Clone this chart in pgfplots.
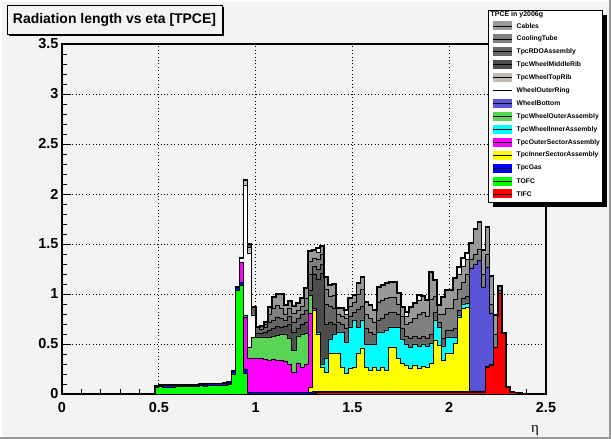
\documentclass[border=0pt]{standalone}
\usepackage{pgfplots}
\usepackage{pgfplotstable}
\pgfplotsset{compat=1.18}
\usepackage{fontspec}
\setmainfont{Liberation Sans}
\newfontfamily\greekfont{Liberation Serif}
\definecolor{bg}{RGB}{243,243,243}
\definecolor{cCables}{RGB}{153,153,153}
\definecolor{cCool}{RGB}{127,127,127}
\definecolor{cRDO}{RGB}{102,102,102}
\definecolor{cMid}{RGB}{76,76,76}
\definecolor{cTop}{RGB}{194,188,178}
\definecolor{cBot}{RGB}{89,84,216}
\definecolor{cWOut}{RGB}{89,212,84}
\definecolor{cWIn}{RGB}{0,255,255}
\definecolor{cOut}{RGB}{255,0,255}
\definecolor{cIn}{RGB}{255,255,0}
\definecolor{cGas}{RGB}{0,0,255}
\definecolor{cTOFC}{RGB}{0,255,0}
\definecolor{cTIFC}{RGB}{255,0,0}

\pgfplotstableread{
x y
0.4583 0
0.4792 0.08
0.5 0.09
0.7083 0.105
0.7292 0.10
0.75 0.105
0.8333 0.11
0.8542 0.12
0.875 0.23
0.8958 1.07
0.9167 1.36
0.9375 2.14
0.9583 1.50
0.9792 0.87
1.0 0.67
1.0208 0.68
1.0417 0.72
1.0625 0.87
1.0833 0.97
1.1042 1.00
1.125 1.00
1.1458 0.89
1.1667 0.93
1.1875 0.88
1.2083 0.91
1.2292 0.96
1.25 1.06
1.2708 1.43
1.2917 1.44
1.3125 1.46
1.3333 1.48
1.3542 1.17
1.375 1.09
1.3958 1.10
1.4167 0.86
1.4375 0.86
1.4583 0.84
1.4792 0.96
1.5 0.99
1.5208 1.11
1.5417 1.17
1.5625 0.92
1.5833 0.89
1.6042 0.84
1.625 1.07
1.6458 1.09
1.6667 1.11
1.6875 1.12
1.7083 1.12
1.7292 1.01
1.75 0.87
1.7708 0.82
1.7917 0.87
1.8125 0.91
1.8333 0.99
1.8542 0.98
1.875 0.94
1.8958 1.22
1.9167 1.14
1.9375 0.89
1.9583 0.97
1.9792 1.04
2.0 1.04
2.0208 1.16
2.0417 1.27
2.0625 1.36
2.0833 1.41
2.1042 1.51
2.125 1.65
2.1458 1.72
2.1667 1.44
2.1875 1.67
2.2083 1.18
2.2292 0.79
2.25 1.08
2.2708 0.61
2.2917 0.07
2.3125 0.02
2.3333 0.015
2.3542 0.01
2.375 0
}\tabTot

\begin{document}
\begin{tikzpicture}
\useasboundingbox (0bp,0bp) rectangle (611bp,439bp);
\fill[bg] (0bp,0bp) rectangle (611bp,439bp);
\fill[white] (0bp,437bp) rectangle (611bp,439bp);
\fill[white] (0bp,0bp) rectangle (2bp,439bp);
\fill[black!40] (0bp,0bp) rectangle (611bp,2bp);
\fill[black!40] (609bp,0bp) rectangle (611bp,439bp);

\begin{axis}[
  at={(62bp,45bp)}, anchor=south west, scale only axis,
  width=484bp, height=350bp,
  xmin=0, xmax=2.5, ymin=0, ymax=3.5,
  xtick={0,0.5,1,1.5,2,2.5}, ytick={0,0.5,1,1.5,2,2.5,3,3.5},
  minor tick num=4,
  tick pos=left, tick align=inside,
  major tick length=9bp, minor tick length=4.5bp,
  every tick/.style={black, line width=0.8bp},
  grid=major,
  grid style={black, line width=0.8bp, dash pattern=on 0.8bp off 2.6bp},
  axis line style={line width=1.1bp},
  tick label style={font=\fontsize{14.5}{14.5}\selectfont\bfseries},
  /pgf/number format/assume math mode=true,
  xticklabel style={yshift=-5bp},
  axis background/.style={fill=bg},
  const plot mark left,
  every axis plot/.append style={draw=black, line width=0.85bp},
]
% total (white where it exceeds the stack)
\addplot[fill=white, line width=1.8bp] table {\tabTot} \closedcycle;
% Cables
\addplot[fill=cCables] table {
x y
0.9167 1.36
0.9375 2.14
0.9583 1.50
0.9792 0.87
1.0 0.67
1.0208 0.68
1.0417 0.72
1.0625 0.87
1.0833 0.97
1.1042 1.00
1.1458 0.89
1.1667 0.93
1.1875 0.88
1.2083 0.91
1.2292 0.96
1.25 1.06
1.2708 1.43
1.2917 1.44
1.3125 1.42
1.3333 1.48
1.3542 1.17
1.375 1.09
1.3958 1.10
1.4167 0.86
1.4583 0.80
1.4792 0.96
1.5 0.99
1.5208 1.11
1.5417 1.17
1.5625 0.92
1.5833 0.89
1.6042 0.84
1.625 1.07
1.6458 1.09
1.6667 1.11
1.6875 1.12
1.7292 1.01
1.75 0.87
1.7708 0.78
1.7917 0.87
1.8125 0.91
1.8333 0.94
1.8542 0.98
1.875 0.94
1.8958 1.22
1.9167 1.14
1.9375 0.89
1.9583 0.97
1.9792 1.04
2.0208 1.16
2.0417 1.20
2.0625 1.28
2.0833 1.35
2.1042 1.51
2.125 1.65
2.1458 1.72
2.1667 1.44
2.1875 1.67
2.2083 1.18
2.2292 0.79
2.25 1.08
2.2708 0.61
2.2917 0.07
2.3125 0.02
2.3333 0.015
2.3542 0.01
2.375 0
} \closedcycle;
% CoolingTube
\addplot[fill=cCool] table {
x y
0.9792 0.87
1.0 0.67
1.0208 0.68
1.0417 0.70
1.0625 0.80
1.0833 0.86
1.1042 0.89
1.125 0.86
1.1458 0.80
1.1667 0.86
1.1875 0.81
1.2083 0.84
1.2292 0.88
1.25 0.96
1.2708 1.33
1.2917 1.36
1.3125 1.35
1.3333 1.40
1.3542 1.05
1.375 0.98
1.3958 0.99
1.4167 0.80
1.4375 0.78
1.4583 0.76
1.4792 0.88
1.5 0.92
1.5208 1.00
1.5417 1.05
1.5625 0.80
1.5833 0.76
1.6042 0.72
1.625 0.92
1.6458 0.94
1.6667 0.96
1.6875 0.97
1.7292 0.90
1.75 0.78
1.7708 0.70
1.7917 0.72
1.8125 0.76
1.8333 0.80
1.8542 0.82
1.875 0.78
1.8958 0.95
1.9167 0.98
1.9375 0.80
1.9792 0.86
2.0208 0.95
2.0417 1.05
2.0625 1.12
2.0833 1.20
2.1042 1.35
2.125 1.40
2.1458 1.45
2.1667 1.20
2.1875 1.40
2.2083 0.90
2.2292 0.60
2.25 1.04
2.2708 0
} \closedcycle;
% TpcRDOAssembly
\addplot[fill=cRDO] table {
x y
0.9792 0.87
1.0 0.67
1.0208 0.65
1.0417 0.67
1.0625 0.72
1.0833 0.74
1.1042 0.77
1.125 0.76
1.1458 0.74
1.1667 0.78
1.1875 0.72
1.2083 0.76
1.2292 0.80
1.25 0.84
1.2708 1.20
1.2917 1.28
1.3125 1.25
1.3333 1.30
1.3542 0.90
1.375 0.88
1.3958 0.86
1.4167 0.72
1.4375 0.70
1.4583 0.66
1.4792 0.78
1.5 0.82
1.5208 0.85
1.5417 0.88
1.5625 0.66
1.5833 0.62
1.6042 0.60
1.625 0.74
1.6458 0.76
1.6667 0.80
1.6875 0.82
1.7292 0.80
1.75 0.66
1.7708 0.58
1.7917 0.56
1.8125 0.58
1.8333 0.56
1.8542 0.58
1.875 0.56
1.8958 0.60
1.9167 0.82
1.9375 0.72
1.9583 0.56
1.9792 0.64
2.0208 0.66
2.0417 0.84
2.0625 0.96
2.0833 0.98
2.1042 0
} \closedcycle;
% TpcWheelMiddleRib
\addplot[fill=cMid] table {
x y
0.9583 1.50
0.9792 0.79
1.0 0.61
1.0417 0.62
1.0625 0.64
1.0833 0.66
1.1042 0.68
1.125 0.67
1.1458 0.68
1.1667 0.70
1.1875 0.62
1.2083 0.66
1.2292 0.70
1.25 0.72
1.2708 1.04
1.2917 1.20
1.3125 1.15
1.3333 1.21
1.3542 0.70
1.375 0.72
1.3958 0.70
1.4167 0
} \closedcycle;
% TpcWheelTopRib
\addplot[fill=cTop] table {
x y
0.9375 2.14
0.9583 1.47
0.9792 0
} \closedcycle;
% WheelOuterRing
\addplot[fill=white] table {
x y
0.9167 1.36
0.9375 2.09
0.9583 1.41
0.9792 0.79
1.0 0
} \closedcycle;
% WheelBottom
\addplot[fill=cBot] table {
x y
2.1042 1.26
2.125 1.30
2.1458 1.34
2.1667 1.07
2.1875 1.27
2.2083 0.81
2.2292 0
} \closedcycle;
% TpcWheelOuterAssembly
\addplot[fill=cWOut] table {
x y
0.9375 0.79
0.9583 0.47
0.9792 0.57
1.0833 0.58
1.1042 0.59
1.125 0.60
1.1667 0.56
1.1875 0.44
1.2083 0.58
1.2292 0.60
1.25 0.61
1.2708 0.99
1.2917 0
} \closedcycle;
% TpcWheelInnerAssembly
\addplot[fill=cWIn] table {
x y
1.3125 0.62
1.3333 0.30
1.3542 0.36
1.375 0.55
1.3958 0.60
1.4167 0.62
1.4583 0.52
1.4792 0.67
1.5 0.74
1.5208 0.67
1.5417 0.74
1.5625 0.50
1.625 0.62
1.6667 0.64
1.6875 0.67
1.75 0.55
1.7708 0.50
1.7917 0.47
1.8125 0.50
1.8333 0.48
1.8542 0.50
1.875 0.48
1.8958 0.51
1.9167 0.74
1.9375 0.67
1.9583 0.48
1.9792 0.57
2.0417 0.79
2.0625 0.90
2.0833 0.91
2.1042 0
} \closedcycle;
% TpcOuterSectorAssembly
\addplot[fill=cOut] table {
x y
0.9167 1.32
0.9375 0.77
0.9583 0.36
1.0417 0.35
1.0625 0.34
1.0833 0.35
1.1042 0.34
1.1458 0.33
1.1667 0.30
1.1875 0.22
1.2083 0.31
1.2292 0.27
1.25 0.30
1.2708 0.81
1.2917 0.86
1.3125 0
} \closedcycle;
% TpcInnerSectorAssembly
\addplot[fill=cIn] table {
x y
1.2708 0.07
1.2917 0.84
1.3125 0.60
1.3333 0.27
1.3542 0.22
1.375 0.41
1.4375 0.27
1.4583 0.21
1.4792 0.26
1.5 0.27
1.5208 0.41
1.5417 0.46
1.5625 0.27
1.5833 0.24
1.6042 0.27
1.625 0.24
1.6458 0.27
1.6667 0.24
1.6875 0.47
1.7292 0.36
1.75 0.31
1.7708 0.29
1.7917 0.26
1.8125 0.29
1.8333 0.26
1.8542 0.28
1.875 0.27
1.8958 0.31
1.9167 0.54
1.9375 0.49
1.9583 0.34
1.9792 0.41
2.0208 0.51
2.0417 0.77
2.0625 0.86
2.0833 0.87
2.1042 0
} \closedcycle;
% TpcGas
\addplot[fill=cGas] table {
x y
0.4792 0.08
0.5 0.09
0.7083 0.105
0.7292 0.10
0.75 0.105
0.8333 0.11
0.8542 0.12
0.875 0.23
0.8958 1.07
0.9167 1.12
0.9375 0.25
0.9583 0.015
1.2708 0.02
1.2917 0.025
1.3125 0.027
2.1042 0.03
2.1875 0.28
2.2083 0.30
2.2292 0
} \closedcycle;
% TOFC
\addplot[fill=cTOFC] table {
x y
0.4792 0.065
0.5 0.075
0.5208 0.07
0.5833 0.075
0.7083 0.085
0.7292 0.08
0.75 0.085
0.7917 0.09
0.8542 0.095
0.875 0.20
0.8958 1.04
0.9167 1.09
0.9375 0.21
0.9583 0
} \closedcycle;
% TIFC
\addplot[fill=cTIFC] table {
x y
1.2917 0.01
1.3125 0.012
2.1042 0.02
2.1875 0.27
2.2083 0.29
2.2292 0.47
2.25 1.01
2.2708 0.61
2.2917 0.07
2.3125 0.02
2.3333 0.015
2.3542 0.01
2.375 0
} \closedcycle;
% thick outline of the total
\addplot[fill=none, line width=1.8bp] table {\tabTot};
\end{axis}

% title box
\fill[black] (9bp,403bp) rectangle (224bp,432bp);
\filldraw[fill=bg, draw=black, line width=0.8bp] (7bp,405bp) rectangle (222bp,434bp);
\node[font=\fontsize{14}{14}\selectfont\bfseries] at (114.5bp,419.5bp) {Radiation length vs eta [TPCE]};

% legend
\fill[black] (493bp,232bp) rectangle (607bp,424bp);
\filldraw[fill=white, draw=black, line width=0.8bp] (488bp,237bp) rectangle (602bp,429bp);
\node[anchor=west, inner sep=0, font=\fontsize{7}{7}\selectfont\bfseries] at (490.5bp,424.5bp) {TPCE in y2006g};
\foreach \nm/\col [count=\i from 0] in {Cables/cCables, CoolingTube/cCool, TpcRDOAssembly/cRDO, TpcWheelMiddleRib/cMid, TpcWheelTopRib/cTop, WheelOuterRing/white, WheelBottom/cBot, TpcWheelOuterAssembly/cWOut, TpcWheelInnerAssembly/cWIn, TpcOuterSectorAssembly/cOut, TpcInnerSectorAssembly/cIn, TpcGas/cGas, TOFC/cTOFC, TIFC/cTIFC} {
  \pgfmathsetmacro\yy{439-26-12.92*\i}
  \fill[\col] (493bp,\yy bp-4.5bp) rectangle (512bp,\yy bp+4.5bp);
  \draw[black, line width=0.8bp] (493bp,\yy bp) -- (512bp,\yy bp);
  \node[anchor=west, inner sep=0, font=\fontsize{6.8}{7}\selectfont\bfseries] at (516.5bp,\yy bp) {\nm};
}

% axis title
\node[font=\greekfont\fontsize{15}{15}\selectfont] at (535bp,8bp) {η};
\end{tikzpicture}
\end{document}
